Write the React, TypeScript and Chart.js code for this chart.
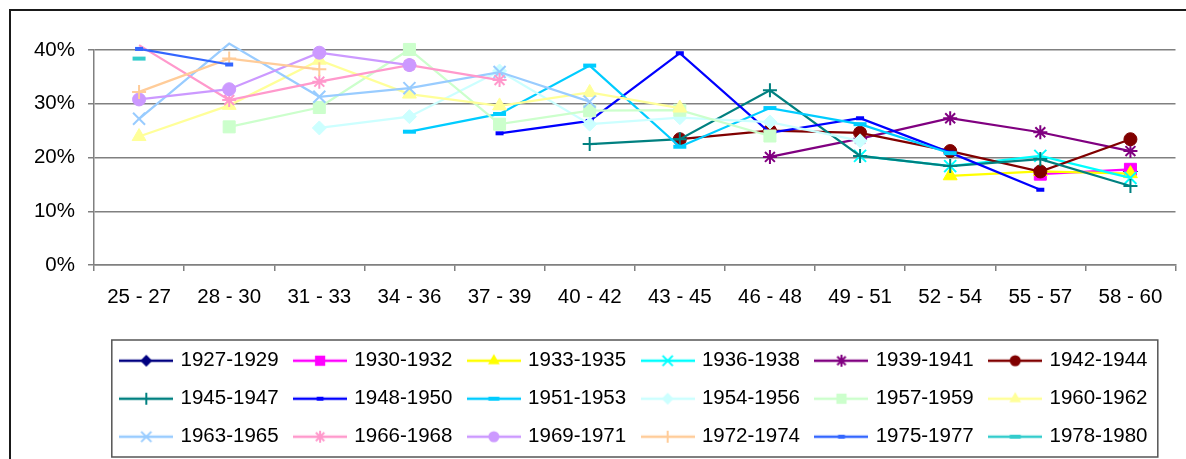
import React, { useEffect, useRef } from 'react';
import { Chart, registerables } from 'chart.js';

Chart.register(...registerables);

const N = null;

const ageGroups = ['25 - 27', '28 - 30', '31 - 33', '34 - 36', '37 - 39', '40 - 42', '43 - 45', '46 - 48', '49 - 51', '52 - 54', '55 - 57', '58 - 60'];
const yTickValues = [0, 10, 20, 30, 40];

const cohorts = ['1927-1929', '1930-1932', '1933-1935', '1936-1938', '1939-1941', '1942-1944', '1945-1947', '1948-1950', '1951-1953', '1954-1956', '1957-1959', '1960-1962', '1963-1965', '1966-1968', '1969-1971', '1972-1974', '1975-1977', '1978-1980'];

const c1927 = [N, N, N, N, N, N, N, N, N, N, N, 17.4];
const c1930 = [N, N, N, N, N, N, N, N, N, N, 16.9, 17.8];
const c1933 = [N, N, N, N, N, N, N, N, N, 16.6, 17.4, 17.0];
const c1936 = [N, N, N, N, N, N, N, N, 20.3, 18.4, 20.3, 16.2];
const c1939 = [N, N, N, N, N, N, N, 20.1, 23.5, 27.3, 24.7, 21.2];
const c1942 = [N, N, N, N, N, N, 23.4, 25.0, 24.6, 21.2, 17.4, 23.4];
const c1945 = [N, N, N, N, N, 22.5, 23.4, 32.5, 20.3, 18.4, 19.7, 14.7];
const c1948 = [N, N, N, N, 24.5, 26.8, 39.4, 24.6, 27.3, 20.9, 14.0, N];
const c1951 = [N, N, N, 24.8, 28.1, 37.1, 22.0, 29.2, 26.2, 20.8, N, N];
const c1954 = [N, N, 25.5, 27.6, 36.1, 26.2, 27.4, 26.6, 23.1, N, N, N];
const c1957 = [N, 25.7, 29.3, 40.1, 26.2, 28.7, 28.8, 24.0, N, N, N, N];
const c1960 = [23.9, 29.7, 38.1, 31.8, 29.6, 32.1, 29.2, N, N, N, N, N];
const c1963 = [27.2, 41.2, 31.3, 32.9, 35.9, 30.4, N, N, N, N, N, N];
const c1966 = [40.9, 30.7, 34.1, 37.2, 34.4, N, N, N, N, N, N, N];
const c1969 = [30.8, 32.7, 39.5, 37.2, N, N, N, N, N, N, N, N];
const c1972 = [32.2, 38.4, 36.4, N, N, N, N, N, N, N, N, N];
const c1975 = [40.2, 37.3, N, N, N, N, N, N, N, N, N, N];
const c1978 = [38.4, N, N, N, N, N, N, N, N, N, N, N];

const seriesValues = [c1927, c1930, c1933, c1936, c1939, c1942, c1945, c1948, c1951, c1954, c1957, c1960, c1963, c1966, c1969, c1972, c1975, c1978];

const seriesColors = ['#000080', '#FF00FF', '#FFFF00', '#00FFFF', '#800080', '#800000', '#008080', '#0000FF', '#00CCFF', '#CCFFFF', '#CCFFCC', '#FFFF99', '#99CCFF', '#FF99CC', '#CC99FF', '#FFCC99', '#3366FF', '#33CCCC'];

type Mk = { style: string; r: number; bw: number };
const markerCycle: Mk[] = [
  { style: 'rectRot', r: 7, bw: 1 },
  { style: 'rect', r: 8.5, bw: 1 },
  { style: 'triangle', r: 8, bw: 1 },
  { style: 'crossRot', r: 8.5, bw: 2 },
  { style: 'star', r: 7, bw: 2 },
  { style: 'circle', r: 6.5, bw: 1 },
  { style: 'cross', r: 7, bw: 2 },
  { style: 'line', r: 4, bw: 4 },
  { style: 'line', r: 6.5, bw: 4 },
];

const FONT = 'Liberation Sans, Arial, sans-serif';

function drawMarker(ctx: CanvasRenderingContext2D, mk: Mk, x: number, y: number, scale: number, color: string) {
  const r = mk.r * scale;
  ctx.save();
  ctx.fillStyle = color;
  ctx.strokeStyle = color;
  ctx.lineWidth = mk.bw;
  ctx.beginPath();
  const cross = () => {
    ctx.moveTo(x - r, y); ctx.lineTo(x + r, y);
    ctx.moveTo(x, y - r); ctx.lineTo(x, y + r);
  };
  const crossRot = () => {
    const d = r * Math.SQRT1_2;
    ctx.moveTo(x - d, y - d); ctx.lineTo(x + d, y + d);
    ctx.moveTo(x + d, y - d); ctx.lineTo(x - d, y + d);
  };
  switch (mk.style) {
    case 'circle':
      ctx.arc(x, y, r, 0, Math.PI * 2); ctx.fill(); break;
    case 'rect': {
      const s = r * Math.SQRT1_2;
      ctx.rect(x - s, y - s, 2 * s, 2 * s); ctx.fill(); break;
    }
    case 'rectRot':
      ctx.moveTo(x - r, y); ctx.lineTo(x, y - r); ctx.lineTo(x + r, y); ctx.lineTo(x, y + r); ctx.closePath(); ctx.fill(); break;
    case 'triangle':
      for (let k = 0; k < 3; k++) {
        const a = (k * 2 * Math.PI) / 3;
        const px = x + Math.sin(a) * r, py = y - Math.cos(a) * r;
        if (k === 0) ctx.moveTo(px, py); else ctx.lineTo(px, py);
      }
      ctx.closePath(); ctx.fill(); break;
    case 'cross': cross(); ctx.stroke(); break;
    case 'crossRot': crossRot(); ctx.stroke(); break;
    case 'star': cross(); crossRot(); ctx.stroke(); break;
    case 'line':
      ctx.moveTo(x - r, y); ctx.lineTo(x + r, y); ctx.stroke(); break;
  }
  ctx.restore();
}

function makeGlyph(i: number): HTMLCanvasElement {
  const c = document.createElement('canvas');
  c.width = 54; c.height = 20;
  const ctx = c.getContext('2d')!;
  ctx.strokeStyle = seriesColors[i];
  ctx.lineWidth = 2.5;
  ctx.beginPath(); ctx.moveTo(0, 10); ctx.lineTo(54, 10); ctx.stroke();
  drawMarker(ctx, markerCycle[i % markerCycle.length], 27, 10, 0.85, seriesColors[i]);
  return c;
}

const legendFrame = {
  id: 'legendFrame',
  beforeDraw(chart: any) {
    const lg = chart.legend;
    if (lg) lg.left = 93.8;
  },
  afterDraw(chart: any) {
    const lg = chart.legend;
    if (!lg) return;
    const ctx = chart.ctx as CanvasRenderingContext2D;
    ctx.save();
    ctx.strokeStyle = '#555555';
    ctx.lineWidth = 1.5;
    const x0 = lg.left + 7;
    const y0 = lg.top + 7;
    ctx.strokeRect(x0, y0, 1046, lg.top + lg.height - y0);
    ctx.restore();
  },
};

export default function App() {
  const ref = useRef<HTMLCanvasElement>(null);
  useEffect(() => {
    const glyphs = cohorts.map((_, i) => makeGlyph(i));
    const datasets = cohorts.map((label, i) => {
      const mk = markerCycle[i % markerCycle.length];
      return {
        label,
        data: seriesValues[i],
        borderColor: seriesColors[i],
        backgroundColor: seriesColors[i],
        borderWidth: 2.25,
        pointStyle: mk.style,
        pointRadius: (c: any) => (c.raw != null && c.raw > 40.5 ? 0 : mk.r),
        pointHoverRadius: mk.r,
        pointBorderWidth: mk.bw,
        pointBackgroundColor: seriesColors[i],
        pointBorderColor: seriesColors[i],
        tension: 0,
        clip: false as any,
        order: -i,
      };
    });
    const chart = new Chart(ref.current!, {
      type: 'line',
      data: { labels: ageGroups, datasets: datasets as any },
      options: {
        responsive: false,
        maintainAspectRatio: false,
        animation: false,
        devicePixelRatio: 1,
        layout: { padding: { top: 39, left: 0, right: 6, bottom: 2 } },
        scales: {
          x: {
            type: 'category',
            offset: true,
            grid: { offset: true, drawOnChartArea: false, drawTicks: true, tickLength: 6, color: '#808080', lineWidth: 1.5 },
            border: { display: true, color: '#808080', width: 1.5 },
            ticks: { font: { size: 20.5, family: FONT }, color: '#000', padding: 14, maxRotation: 0, autoSkip: false },
            afterFit: (s: any) => { s.height = 68; },
          },
          y: {
            min: 0,
            max: 40,
            afterBuildTicks: (s: any) => { s.ticks = yTickValues.map((v) => ({ value: v })); },
            ticks: { callback: (v: any) => `${v}%`, font: { size: 20.5, family: FONT }, color: '#000', padding: 13 },
            grid: { color: '#808080', lineWidth: 1.5, drawTicks: true, tickLength: 6 },
            border: { display: true, color: '#808080', width: 1.5 },
            afterFit: (s: any) => { s.width = 83; },
          },
        },
        plugins: {
          tooltip: { enabled: false },
          legend: {
            position: 'bottom',
            fullSize: false,
            align: 'start',
            labels: {
              usePointStyle: true,
              pointStyleWidth: 48,
              padding: 17.5,
              color: '#000',
              font: { size: 20.5, family: FONT },
              sort: (a: any, b: any) => a.datasetIndex - b.datasetIndex,
              generateLabels: (ch: any) =>
                (Chart.defaults.plugins.legend.labels.generateLabels as any)(ch).map((l: any) => ({
                  ...l,
                  pointStyle: glyphs[l.datasetIndex],
                })),
            },
          },
        },
      } as any,
      plugins: [legendFrame],
    });
    return () => chart.destroy();
  }, []);

  return (
    <div
      style={{
        position: 'fixed',
        left: 9,
        top: 9,
        width: 1177,
        height: 450,
        boxSizing: 'border-box',
        borderTop: '2px solid #1a1a1a',
        borderLeft: '2px solid #1a1a1a',
        background: '#fff',
      }}
    >
      <canvas ref={ref} width={1175} height={448} style={{ display: 'block', width: 1175, height: 448 }} />
    </div>
  );
}
